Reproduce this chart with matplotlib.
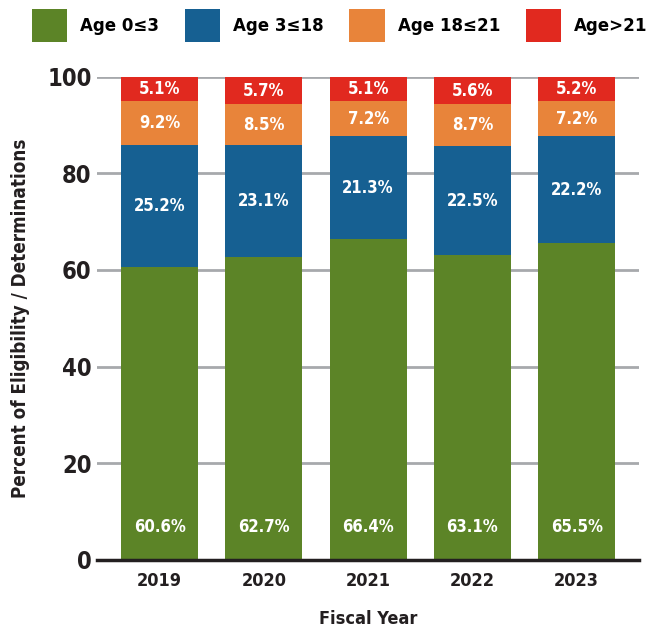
import numpy as np
import matplotlib.pyplot as plt
from matplotlib.patches import Patch

plt.rcParams['font.family'] = ['DejaVu Sans']
plt.rcParams['font.stretch'] = 'condensed'

# --- Data ---
years = ["2019", "2020", "2021", "2022", "2023"]
age_0_3 = [60.6, 62.7, 66.4, 63.1, 65.5]
age_3_18 = [25.2, 23.1, 21.3, 22.5, 22.2]
age_18_21 = [9.2, 8.5, 7.2, 8.7, 7.2]
age_21_up = [5.1, 5.7, 5.1, 5.6, 5.2]

series_labels = ["Age 0≤3", "Age 3≤18", "Age 18≤21", "Age>21"]
colors = ["#5C8427", "#166092", "#E8843A", "#E1291F"]

# --- Plot ---
fig = plt.figure(figsize=(6.47, 6.29), dpi=100)
ax = fig.add_axes([0.15, 0.11, 0.838, 0.768])

x = np.arange(len(years))
width = 0.74
bottom = np.zeros(len(years))
series = [age_0_3, age_3_18, age_18_21, age_21_up]
for vals, col in zip(series, colors):
    vals = np.array(vals)
    ax.bar(x, vals, width, bottom=bottom, color=col, zorder=3)
    for i, v in enumerate(vals):
        # green labels sit near the bottom, others in the middle
        if col == colors[0]:
            y = 6.8
        else:
            y = bottom[i] + v / 2
        ax.text(x[i], y, f"{v:.1f}%", ha="center", va="center",
                color="white", fontsize=12, fontweight="bold", zorder=4)
    bottom += vals

ax.set_ylim(0, 100)
ax.set_xlim(-0.6, len(years) - 0.4)
ax.set_yticks([0, 20, 40, 60, 80, 100])
ax.set_xticks(x)
ax.set_xticklabels(years)
ax.tick_params(axis="y", labelsize=17, length=0, pad=4)
ax.tick_params(axis="x", labelsize=13, length=0, pad=9)
for lbl in ax.get_yticklabels() + ax.get_xticklabels():
    lbl.set_fontweight("bold")
    lbl.set_color("#231F20")

ax.yaxis.grid(True, color="#A7A9AC", linewidth=2, zorder=0)
ax.set_axisbelow(True)
for s in ["top", "right", "left"]:
    ax.spines[s].set_visible(False)
ax.spines["bottom"].set_color("#231F20")
ax.spines["bottom"].set_linewidth(2.5)
ax.spines["bottom"].set_zorder(5)

ax.set_xlabel("Fiscal Year", fontsize=13, fontweight="bold", color="#231F20", labelpad=14)
ax.set_ylabel("Percent of Eligibility / Determinations", fontsize=13.5,
              fontweight="bold", color="#231F20", labelpad=12)

handles = [Patch(facecolor=c, edgecolor="none") for c in colors]
fig.legend(handles, series_labels, loc="upper center", bbox_to_anchor=(0.525, 1.012),
           ncol=4, frameon=False, handlelength=1.9, handleheight=2.4,
           handletextpad=0.7, columnspacing=1.4, prop={"weight": "bold", "size": 13.3})

fig.savefig("out.png", dpi=100)
